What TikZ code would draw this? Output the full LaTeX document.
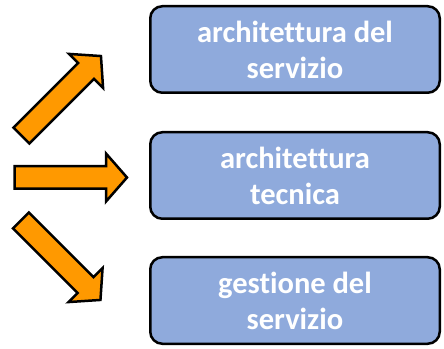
\documentclass[tikz,border=0pt]{standalone}
\usepackage{fontspec}
\setmainfont[Ligatures=NoCommon]{Carlito}
\usepackage{xcolor}
\usetikzlibrary{positioning}
\definecolor{boxblue}{RGB}{143,170,220}
\definecolor{arrorange}{RGB}{255,153,0}

\begin{document}
\begin{tikzpicture}[x=1pt,y=1pt,line join=miter]
\def\bw{289.5}
\def\bh{86.5}
\tikzset{
  blok/.style={draw=black,line width=2.5pt,fill=boxblue,rounded corners=12pt,
    minimum width=\bw pt,minimum height=\bh pt,text=white,align=center,
    font=\fontsize{30.5}{36}\selectfont\bfseries},
  freccia/.style={draw=black,line width=2.5pt,fill=arrorange}
}
\useasboundingbox (0,0) rectangle (444,348);

\node[blok] (archserv) at (295,298.5) {architettura del\\servizio};
\node[blok,below=37pt of archserv] (archtec) {architettura\\tecnica};
\node[blok,below=36pt of archtec] (gestserv) {gestione del\\servizio};

\foreach \x/\y/\a in {21.4/212.4/45, 14.5/170.5/0, 20.9/127.6/-45}{
  \draw[freccia,shift={(\x,\y)},rotate=\a]
    (0,-11.25) -- (91.5,-11.25) -- (91.5,-24) -- (112.5,0)
    -- (91.5,24) -- (91.5,11.25) -- (0,11.25) -- cycle;
}

\end{tikzpicture}
\end{document}
